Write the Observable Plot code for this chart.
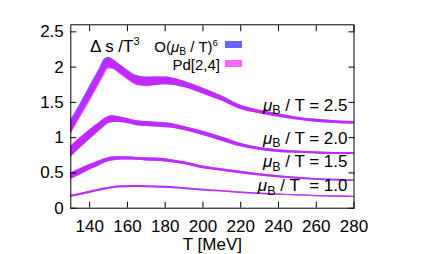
<!DOCTYPE html>
<html><head><meta charset="utf-8">
<script src="https://cdn.jsdelivr.net/npm/d3@7"></script>
<script src="https://cdn.jsdelivr.net/npm/@observablehq/plot@0.6"></script>
<style>
body{margin:0;background:#fff;}
#wrap{position:relative;width:424px;height:254px;font-family:"Liberation Sans",Arial,sans-serif;color:#000;}
.ann{position:absolute;white-space:nowrap;}
.sup{font-size:0.65em;position:relative;top:-0.6em;}
.sub{font-size:0.7em;position:relative;top:0.3em;}
.mu{font-style:italic;}
.sw{position:absolute;}
</style></head><body><div id="wrap"></div>
<script>
// Temperature grid (MeV)
const T = [130,135,140,145,148,150,152,155,160,165,170,175,180,185,190,200,210,220,230,240,250,260,270,280];

// mu_B/T = 2.5 : O(mu^6) band (blue) and Pd[2,4] band (magenta)
const o6Hi25 = [1.25,1.48,1.73,1.97,2.12,2.14,2.12,2.06,1.96,1.88,1.86,1.86,1.86,1.84,1.80,1.70,1.59,1.46,1.39,1.34,1.29,1.26,1.24,1.23];
const o6Lo25 = [1.06,1.30,1.53,1.77,1.92,1.99,1.98,1.93,1.83,1.75,1.73,1.74,1.75,1.74,1.71,1.62,1.52,1.40,1.34,1.29,1.25,1.22,1.20,1.19];
const pdHi25 = [1.22,1.44,1.69,1.93,2.08,2.12,2.11,2.05,1.95,1.87,1.85,1.86,1.86,1.84,1.80,1.70,1.59,1.46,1.39,1.34,1.29,1.26,1.24,1.23];
const pdLo25 = [1.04,1.27,1.50,1.74,1.89,1.97,1.97,1.92,1.82,1.74,1.72,1.74,1.75,1.74,1.71,1.62,1.52,1.40,1.34,1.29,1.25,1.22,1.20,1.19];

// mu_B/T = 2.0
const hi20 = [0.88,1.00,1.11,1.21,1.27,1.30,1.31,1.30,1.27,1.24,1.23,1.22,1.21,1.19,1.16,1.09,1.01,0.92,0.86,0.83,0.81,0.80,0.79,0.79];
const lo20 = [0.72,0.85,0.97,1.09,1.16,1.20,1.21,1.22,1.20,1.17,1.16,1.15,1.14,1.13,1.10,1.03,0.95,0.87,0.82,0.79,0.78,0.77,0.76,0.76];

// mu_B/T = 1.5
const hi15 = [0.50,0.56,0.62,0.67,0.70,0.715,0.725,0.73,0.73,0.72,0.715,0.71,0.70,0.68,0.66,0.60,0.56,0.525,0.49,0.46,0.44,0.42,0.41,0.40];
const lo15 = [0.41,0.47,0.54,0.60,0.64,0.66,0.67,0.68,0.685,0.68,0.67,0.665,0.655,0.64,0.62,0.56,0.525,0.49,0.455,0.43,0.41,0.395,0.385,0.38];

// mu_B/T = 1.0
const hi10 = [0.185,0.21,0.24,0.27,0.285,0.295,0.305,0.315,0.32,0.322,0.32,0.315,0.31,0.30,0.29,0.27,0.25,0.23,0.215,0.20,0.19,0.18,0.175,0.17];
const lo10 = [0.155,0.18,0.21,0.24,0.255,0.265,0.275,0.285,0.29,0.292,0.29,0.287,0.282,0.275,0.265,0.245,0.228,0.21,0.195,0.182,0.172,0.163,0.157,0.152];

const xTicks = [140,160,180,200,220,240,260,280];
const yTicks = [0,0.5,1,1.5,2,2.5];
const xLabel = "T [MeV]";
const curveLabels = ["μB / T = 2.5","μB / T = 2.0","μB / T = 1.5","μB / T\u00a0 = 1.0"];
const curveLabelY = [1.456,0.993,0.659,0.319];

function rows(name, hi, lo) { return T.map((t,i)=>({T:t, hi:hi[i], lo:lo[i], curve:name})); }
const o6Rows = [...rows("2.5",o6Hi25,o6Lo25),...rows("2.0",hi20,lo20),...rows("1.5",hi15,lo15),...rows("1.0",hi10,lo10)];
const pdRows = [...rows("2.5",pdHi25,pdLo25),...rows("2.0",hi20,lo20),...rows("1.5",hi15,lo15),...rows("1.0",hi10,lo10)];
const labelRows = curveLabels.map((t,i)=>({t, y:curveLabelY[i]}));

const plot = Plot.plot({
  width: 424, height: 254,
  marginLeft: 70.3, marginRight: 70.5, marginTop: 24.3, marginBottom: 46.3,
  x: {domain:[130,280]},
  y: {domain:[0,2.6]},
  style: {fontFamily:"Liberation Sans, Arial, sans-serif", fontSize:"17px", background:"white", color:"black", overflow:"visible"},
  marks: [
    Plot.areaY(o6Rows, {x:"T", y1:"lo", y2:"hi", z:"curve", fill:"#0000ff", fillOpacity:0.6, curve:"monotone-x"}),
    Plot.areaY(pdRows, {x:"T", y1:"lo", y2:"hi", z:"curve", fill:"#ff00ff", fillOpacity:0.6, curve:"monotone-x"}),
    Plot.frame({stroke:"black", strokeWidth:1}),
    Plot.axisX({anchor:"bottom", ticks:xTicks, tickSize:-6, tickFormat:()=>"", label:null}),
    Plot.axisX({anchor:"top", ticks:xTicks, tickSize:-6, tickFormat:()=>"", label:null}),
    Plot.axisY({anchor:"left", ticks:yTicks, tickSize:-6, tickFormat:()=>"", label:null}),
    Plot.axisY({anchor:"right", ticks:yTicks, tickSize:-6, tickFormat:()=>"", label:null}),
    Plot.axisX({anchor:"bottom", ticks:xTicks, tickSize:0, tickPadding:12, tickFormat:d=>String(d), label:null}),
    Plot.axisY({anchor:"left", ticks:yTicks, tickSize:0, tickPadding:7, tickFormat:d=>String(d), label:null}),
    Plot.text([xLabel], {frameAnchor:"bottom", text:d=>d, lineAnchor:"bottom", dy:42, fontSize:17}),
    Plot.text(labelRows, {y:"y", text:"t", frameAnchor:"right", textAnchor:"end", dx:-6.5, lineAnchor:"middle", fontSize:17})
  ]
});

// subscript B for mu_B in curve labels
d3.select(plot).selectAll("text").each(function(){
  const s = this.textContent;
  if (s.startsWith("μB")) {
    const t = d3.select(this); t.text(null);
    t.append("tspan").attr("font-style","italic").text("μ");
    t.append("tspan").attr("font-size","12.5px").attr("dy","3.5").text("B");
    t.append("tspan").attr("dy","-3.5").text(s.slice(2));
  }
});

const wrap = document.getElementById("wrap");
wrap.appendChild(plot);

const ann = document.createElement("div");
ann.innerHTML = `
<div class="ann" style="left:90px;top:37.6px;font-size:17px;line-height:17px;">Δ s /T<span class="sup">3</span></div>
<div class="ann" style="right:206px;top:38.5px;font-size:15px;line-height:15px;">O(<span class="mu">μ</span><span class="sub">B</span> / T)<span class="sup">6</span></div>
<div class="ann" style="right:204px;top:56.5px;font-size:15px;line-height:15px;">Pd[2,4]</div>
<div class="sw" style="left:225.3px;top:41.3px;width:16.7px;height:7px;background:#6666ff;"></div>
<div class="sw" style="left:225.3px;top:60px;width:16.7px;height:6.7px;background:#ff66ff;"></div>`;
while (ann.firstChild) wrap.appendChild(ann.firstChild);
</script></body></html>
